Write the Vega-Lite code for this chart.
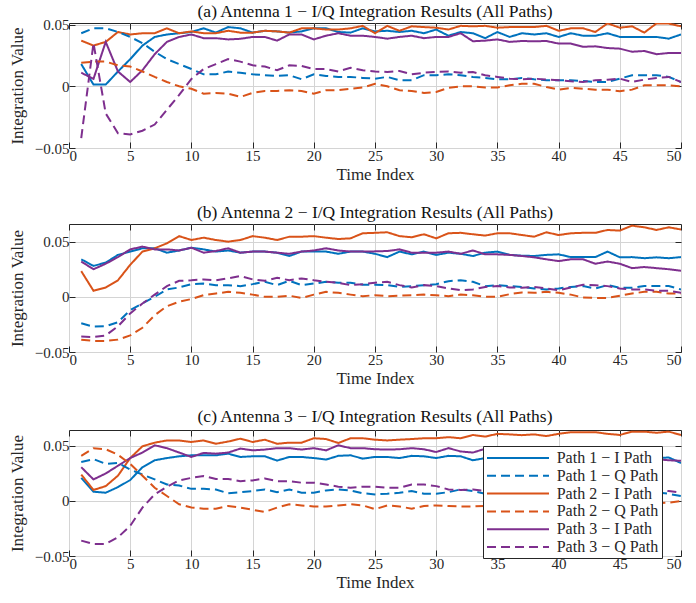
{
"$schema": "https://vega.github.io/schema/vega-lite/v6.json",
"padding": {"top": 2, "left": 7, "right": 5, "bottom": 2},
"datasets": {
"a": [
{"s":"1I","t":1,"v":0.018},{"s":"1I","t":2,"v":0.0014},{"s":"1I","t":3,"v":0.0014},{"s":"1I","t":4,"v":0.012},{"s":"1I","t":5,"v":0.022},{"s":"1I","t":6,"v":0.033},{"s":"1I","t":7,"v":0.040},{"s":"1I","t":8,"v":0.042},{"s":"1I","t":9,"v":0.043},{"s":"1I","t":10,"v":0.044},
{"s":"1I","t":11,"v":0.047},{"s":"1I","t":12,"v":0.0435},{"s":"1I","t":13,"v":0.048},{"s":"1I","t":14,"v":0.047},{"s":"1I","t":15,"v":0.0435},{"s":"1I","t":16,"v":0.045},{"s":"1I","t":17,"v":0.0445},{"s":"1I","t":18,"v":0.0435},{"s":"1I","t":19,"v":0.0445},{"s":"1I","t":20,"v":0.047},
{"s":"1I","t":21,"v":0.047},{"s":"1I","t":22,"v":0.044},{"s":"1I","t":23,"v":0.0435},{"s":"1I","t":24,"v":0.047},{"s":"1I","t":25,"v":0.0445},{"s":"1I","t":26,"v":0.045},{"s":"1I","t":27,"v":0.044},{"s":"1I","t":28,"v":0.045},{"s":"1I","t":29,"v":0.043},{"s":"1I","t":30,"v":0.046},
{"s":"1I","t":31,"v":0.041},{"s":"1I","t":32,"v":0.044},{"s":"1I","t":33,"v":0.043},{"s":"1I","t":34,"v":0.039},{"s":"1I","t":35,"v":0.044},{"s":"1I","t":36,"v":0.040},{"s":"1I","t":37,"v":0.043},{"s":"1I","t":38,"v":0.042},{"s":"1I","t":39,"v":0.043},{"s":"1I","t":40,"v":0.040},
{"s":"1I","t":41,"v":0.043},{"s":"1I","t":42,"v":0.041},{"s":"1I","t":43,"v":0.041},{"s":"1I","t":44,"v":0.043},{"s":"1I","t":45,"v":0.040},{"s":"1I","t":46,"v":0.040},{"s":"1I","t":47,"v":0.040},{"s":"1I","t":48,"v":0.040},{"s":"1I","t":49,"v":0.0386},{"s":"1I","t":50,"v":0.042},
{"s":"2I","t":1,"v":0.037},{"s":"2I","t":2,"v":0.033},{"s":"2I","t":3,"v":0.036},{"s":"2I","t":4,"v":0.044},{"s":"2I","t":5,"v":0.042},{"s":"2I","t":6,"v":0.043},{"s":"2I","t":7,"v":0.043},{"s":"2I","t":8,"v":0.047},{"s":"2I","t":9,"v":0.043},{"s":"2I","t":10,"v":0.0445},
{"s":"2I","t":11,"v":0.043},{"s":"2I","t":12,"v":0.043},{"s":"2I","t":13,"v":0.045},{"s":"2I","t":14,"v":0.0435},{"s":"2I","t":15,"v":0.0435},{"s":"2I","t":16,"v":0.045},{"s":"2I","t":17,"v":0.0445},{"s":"2I","t":18,"v":0.0435},{"s":"2I","t":19,"v":0.047},{"s":"2I","t":20,"v":0.047},
{"s":"2I","t":21,"v":0.046},{"s":"2I","t":22,"v":0.046},{"s":"2I","t":23,"v":0.047},{"s":"2I","t":24,"v":0.049},{"s":"2I","t":25,"v":0.043},{"s":"2I","t":26,"v":0.049},{"s":"2I","t":27,"v":0.045},{"s":"2I","t":28,"v":0.0486},{"s":"2I","t":29,"v":0.048},{"s":"2I","t":30,"v":0.0475},
{"s":"2I","t":31,"v":0.046},{"s":"2I","t":32,"v":0.049},{"s":"2I","t":33,"v":0.0486},{"s":"2I","t":34,"v":0.049},{"s":"2I","t":35,"v":0.0475},{"s":"2I","t":36,"v":0.048},{"s":"2I","t":37,"v":0.048},{"s":"2I","t":38,"v":0.048},{"s":"2I","t":39,"v":0.049},{"s":"2I","t":40,"v":0.045},
{"s":"2I","t":41,"v":0.047},{"s":"2I","t":42,"v":0.047},{"s":"2I","t":43,"v":0.044},{"s":"2I","t":44,"v":0.051},{"s":"2I","t":45,"v":0.0475},{"s":"2I","t":46,"v":0.0486},{"s":"2I","t":47,"v":0.0435},{"s":"2I","t":48,"v":0.051},{"s":"2I","t":49,"v":0.0508},{"s":"2I","t":50,"v":0.0486},
{"s":"3I","t":1,"v":0.011},{"s":"3I","t":2,"v":0.006},{"s":"3I","t":3,"v":0.036},{"s":"3I","t":4,"v":0.012},{"s":"3I","t":5,"v":0.0035},{"s":"3I","t":6,"v":0.013},{"s":"3I","t":7,"v":0.026},{"s":"3I","t":8,"v":0.036},{"s":"3I","t":9,"v":0.040},{"s":"3I","t":10,"v":0.042},
{"s":"3I","t":11,"v":0.039},{"s":"3I","t":12,"v":0.039},{"s":"3I","t":13,"v":0.038},{"s":"3I","t":14,"v":0.0385},{"s":"3I","t":15,"v":0.040},{"s":"3I","t":16,"v":0.040},{"s":"3I","t":17,"v":0.037},{"s":"3I","t":18,"v":0.042},{"s":"3I","t":19,"v":0.042},{"s":"3I","t":20,"v":0.038},
{"s":"3I","t":21,"v":0.041},{"s":"3I","t":22,"v":0.043},{"s":"3I","t":23,"v":0.041},{"s":"3I","t":24,"v":0.041},{"s":"3I","t":25,"v":0.040},{"s":"3I","t":26,"v":0.0386},{"s":"3I","t":27,"v":0.040},{"s":"3I","t":28,"v":0.041},{"s":"3I","t":29,"v":0.039},{"s":"3I","t":30,"v":0.040},
{"s":"3I","t":31,"v":0.040},{"s":"3I","t":32,"v":0.043},{"s":"3I","t":33,"v":0.0365},{"s":"3I","t":34,"v":0.037},{"s":"3I","t":35,"v":0.038},{"s":"3I","t":36,"v":0.036},{"s":"3I","t":37,"v":0.0367},{"s":"3I","t":38,"v":0.0365},{"s":"3I","t":39,"v":0.0367},{"s":"3I","t":40,"v":0.0346},
{"s":"3I","t":41,"v":0.0346},{"s":"3I","t":42,"v":0.032},{"s":"3I","t":43,"v":0.0324},{"s":"3I","t":44,"v":0.031},{"s":"3I","t":45,"v":0.0305},{"s":"3I","t":46,"v":0.028},{"s":"3I","t":47,"v":0.0286},{"s":"3I","t":48,"v":0.026},{"s":"3I","t":49,"v":0.027},{"s":"3I","t":50,"v":0.027},
{"s":"1Q","t":1,"v":0.043},{"s":"1Q","t":2,"v":0.047},{"s":"1Q","t":3,"v":0.047},{"s":"1Q","t":4,"v":0.044},{"s":"1Q","t":5,"v":0.040},{"s":"1Q","t":6,"v":0.035},{"s":"1Q","t":7,"v":0.028},{"s":"1Q","t":8,"v":0.022},{"s":"1Q","t":9,"v":0.018},{"s":"1Q","t":10,"v":0.014},
{"s":"1Q","t":11,"v":0.0097},{"s":"1Q","t":12,"v":0.0097},{"s":"1Q","t":13,"v":0.012},{"s":"1Q","t":14,"v":0.011},{"s":"1Q","t":15,"v":0.0097},{"s":"1Q","t":16,"v":0.009},{"s":"1Q","t":17,"v":0.0084},{"s":"1Q","t":18,"v":0.009},{"s":"1Q","t":19,"v":0.0057},{"s":"1Q","t":20,"v":0.0097},
{"s":"1Q","t":21,"v":0.0084},{"s":"1Q","t":22,"v":0.0076},{"s":"1Q","t":23,"v":0.0076},{"s":"1Q","t":24,"v":0.0068},{"s":"1Q","t":25,"v":0.0062},{"s":"1Q","t":26,"v":0.0076},{"s":"1Q","t":27,"v":0.0049},{"s":"1Q","t":28,"v":0.0049},{"s":"1Q","t":29,"v":0.009},{"s":"1Q","t":30,"v":0.009},
{"s":"1Q","t":31,"v":0.0097},{"s":"1Q","t":32,"v":0.009},{"s":"1Q","t":33,"v":0.0076},{"s":"1Q","t":34,"v":0.0068},{"s":"1Q","t":35,"v":0.0057},{"s":"1Q","t":36,"v":0.0057},{"s":"1Q","t":37,"v":0.0068},{"s":"1Q","t":38,"v":0.0057},{"s":"1Q","t":39,"v":0.0049},{"s":"1Q","t":40,"v":0.0049},
{"s":"1Q","t":41,"v":0.0049},{"s":"1Q","t":42,"v":0.0043},{"s":"1Q","t":43,"v":0.0035},{"s":"1Q","t":44,"v":0.0035},{"s":"1Q","t":45,"v":0.0062},{"s":"1Q","t":46,"v":0.009},{"s":"1Q","t":47,"v":0.009},{"s":"1Q","t":48,"v":0.009},{"s":"1Q","t":49,"v":0.0076},{"s":"1Q","t":50,"v":0.0035},
{"s":"2Q","t":1,"v":0.019},{"s":"2Q","t":2,"v":0.020},{"s":"2Q","t":3,"v":0.020},{"s":"2Q","t":4,"v":0.017},{"s":"2Q","t":5,"v":0.016},{"s":"2Q","t":6,"v":0.012},{"s":"2Q","t":7,"v":0.0076},{"s":"2Q","t":8,"v":0.0035},{"s":"2Q","t":9,"v":0.0},{"s":"2Q","t":10,"v":-0.002},
{"s":"2Q","t":11,"v":-0.006},{"s":"2Q","t":12,"v":-0.0054},{"s":"2Q","t":13,"v":-0.006},{"s":"2Q","t":14,"v":-0.0086},{"s":"2Q","t":15,"v":-0.0054},{"s":"2Q","t":16,"v":-0.0038},{"s":"2Q","t":17,"v":-0.0038},{"s":"2Q","t":18,"v":-0.0032},{"s":"2Q","t":19,"v":-0.0038},{"s":"2Q","t":20,"v":-0.006},
{"s":"2Q","t":21,"v":-0.0032},{"s":"2Q","t":22,"v":-0.0032},{"s":"2Q","t":23,"v":-0.002},{"s":"2Q","t":24,"v":-0.001},{"s":"2Q","t":25,"v":0.002},{"s":"2Q","t":26,"v":0.0},{"s":"2Q","t":27,"v":-0.0032},{"s":"2Q","t":28,"v":-0.0038},{"s":"2Q","t":29,"v":-0.0054},{"s":"2Q","t":30,"v":-0.0046},
{"s":"2Q","t":31,"v":-0.0013},{"s":"2Q","t":32,"v":0.0},{"s":"2Q","t":33,"v":0.0},{"s":"2Q","t":34,"v":-0.001},{"s":"2Q","t":35,"v":-0.001},{"s":"2Q","t":36,"v":0.0008},{"s":"2Q","t":37,"v":0.002},{"s":"2Q","t":38,"v":0.002},{"s":"2Q","t":39,"v":-0.0005},{"s":"2Q","t":40,"v":-0.0027},
{"s":"2Q","t":41,"v":-0.0013},{"s":"2Q","t":42,"v":-0.002},{"s":"2Q","t":43,"v":-0.0027},{"s":"2Q","t":44,"v":-0.0027},{"s":"2Q","t":45,"v":-0.004},{"s":"2Q","t":46,"v":-0.0027},{"s":"2Q","t":47,"v":0.0008},{"s":"2Q","t":48,"v":0.0008},{"s":"2Q","t":49,"v":0.0008},{"s":"2Q","t":50,"v":0.0},
{"s":"3Q","t":1,"v":-0.042},{"s":"3Q","t":2,"v":0.035},{"s":"3Q","t":3,"v":-0.022},{"s":"3Q","t":4,"v":-0.038},{"s":"3Q","t":5,"v":-0.039},{"s":"3Q","t":6,"v":-0.036},{"s":"3Q","t":7,"v":-0.031},{"s":"3Q","t":8,"v":-0.019},{"s":"3Q","t":9,"v":-0.007},{"s":"3Q","t":10,"v":0.006},
{"s":"3Q","t":11,"v":0.014},{"s":"3Q","t":12,"v":0.018},{"s":"3Q","t":13,"v":0.022},{"s":"3Q","t":14,"v":0.020},{"s":"3Q","t":15,"v":0.017},{"s":"3Q","t":16,"v":0.016},{"s":"3Q","t":17,"v":0.013},{"s":"3Q","t":18,"v":0.017},{"s":"3Q","t":19,"v":0.0165},{"s":"3Q","t":20,"v":0.014},
{"s":"3Q","t":21,"v":0.014},{"s":"3Q","t":22,"v":0.012},{"s":"3Q","t":23,"v":0.015},{"s":"3Q","t":24,"v":0.013},{"s":"3Q","t":25,"v":0.012},{"s":"3Q","t":26,"v":0.0116},{"s":"3Q","t":27,"v":0.0124},{"s":"3Q","t":28,"v":0.0097},{"s":"3Q","t":29,"v":0.011},{"s":"3Q","t":30,"v":0.0116},
{"s":"3Q","t":31,"v":0.012},{"s":"3Q","t":32,"v":0.011},{"s":"3Q","t":33,"v":0.0116},{"s":"3Q","t":34,"v":0.009},{"s":"3Q","t":35,"v":0.0076},{"s":"3Q","t":36,"v":0.0062},{"s":"3Q","t":37,"v":0.0057},{"s":"3Q","t":38,"v":0.0062},{"s":"3Q","t":39,"v":0.0054},{"s":"3Q","t":40,"v":0.0049},
{"s":"3Q","t":41,"v":0.004},{"s":"3Q","t":42,"v":0.0035},{"s":"3Q","t":43,"v":0.0049},{"s":"3Q","t":44,"v":0.0054},{"s":"3Q","t":45,"v":0.0062},{"s":"3Q","t":46,"v":0.0035},{"s":"3Q","t":47,"v":0.0054},{"s":"3Q","t":48,"v":0.0068},{"s":"3Q","t":49,"v":0.0076},{"s":"3Q","t":50,"v":0.0035}
],
"b": [
{"s":"1I","t":1,"v":0.034},{"s":"1I","t":2,"v":0.028},{"s":"1I","t":3,"v":0.031},{"s":"1I","t":4,"v":0.038},{"s":"1I","t":5,"v":0.041},{"s":"1I","t":6,"v":0.044},{"s":"1I","t":7,"v":0.044},{"s":"1I","t":8,"v":0.040},{"s":"1I","t":9,"v":0.042},{"s":"1I","t":10,"v":0.0445},
{"s":"1I","t":11,"v":0.043},{"s":"1I","t":12,"v":0.041},{"s":"1I","t":13,"v":0.042},{"s":"1I","t":14,"v":0.040},{"s":"1I","t":15,"v":0.041},{"s":"1I","t":16,"v":0.041},{"s":"1I","t":17,"v":0.040},{"s":"1I","t":18,"v":0.037},{"s":"1I","t":19,"v":0.041},{"s":"1I","t":20,"v":0.041},
{"s":"1I","t":21,"v":0.041},{"s":"1I","t":22,"v":0.039},{"s":"1I","t":23,"v":0.041},{"s":"1I","t":24,"v":0.041},{"s":"1I","t":25,"v":0.039},{"s":"1I","t":26,"v":0.036},{"s":"1I","t":27,"v":0.041},{"s":"1I","t":28,"v":0.0385},{"s":"1I","t":29,"v":0.041},{"s":"1I","t":30,"v":0.038},
{"s":"1I","t":31,"v":0.040},{"s":"1I","t":32,"v":0.039},{"s":"1I","t":33,"v":0.037},{"s":"1I","t":34,"v":0.040},{"s":"1I","t":35,"v":0.041},{"s":"1I","t":36,"v":0.038},{"s":"1I","t":37,"v":0.0373},{"s":"1I","t":38,"v":0.037},{"s":"1I","t":39,"v":0.038},{"s":"1I","t":40,"v":0.0385},
{"s":"1I","t":41,"v":0.036},{"s":"1I","t":42,"v":0.036},{"s":"1I","t":43,"v":0.036},{"s":"1I","t":44,"v":0.041},{"s":"1I","t":45,"v":0.0358},{"s":"1I","t":46,"v":0.036},{"s":"1I","t":47,"v":0.035},{"s":"1I","t":48,"v":0.0358},{"s":"1I","t":49,"v":0.035},{"s":"1I","t":50,"v":0.036},
{"s":"2I","t":1,"v":0.0233},{"s":"2I","t":2,"v":0.0055},{"s":"2I","t":3,"v":0.0085},{"s":"2I","t":4,"v":0.015},{"s":"2I","t":5,"v":0.029},{"s":"2I","t":6,"v":0.041},{"s":"2I","t":7,"v":0.044},{"s":"2I","t":8,"v":0.0485},{"s":"2I","t":9,"v":0.055},{"s":"2I","t":10,"v":0.0515},
{"s":"2I","t":11,"v":0.0536},{"s":"2I","t":12,"v":0.0515},{"s":"2I","t":13,"v":0.050},{"s":"2I","t":14,"v":0.0515},{"s":"2I","t":15,"v":0.055},{"s":"2I","t":16,"v":0.0536},{"s":"2I","t":17,"v":0.0515},{"s":"2I","t":18,"v":0.0545},{"s":"2I","t":19,"v":0.0545},{"s":"2I","t":20,"v":0.055},
{"s":"2I","t":21,"v":0.0536},{"s":"2I","t":22,"v":0.0524},{"s":"2I","t":23,"v":0.053},{"s":"2I","t":24,"v":0.0576},{"s":"2I","t":25,"v":0.058},{"s":"2I","t":26,"v":0.0585},{"s":"2I","t":27,"v":0.055},{"s":"2I","t":28,"v":0.054},{"s":"2I","t":29,"v":0.0567},{"s":"2I","t":30,"v":0.053},
{"s":"2I","t":31,"v":0.0576},{"s":"2I","t":32,"v":0.058},{"s":"2I","t":33,"v":0.0567},{"s":"2I","t":34,"v":0.0555},{"s":"2I","t":35,"v":0.0576},{"s":"2I","t":36,"v":0.0576},{"s":"2I","t":37,"v":0.056},{"s":"2I","t":38,"v":0.0545},{"s":"2I","t":39,"v":0.0585},{"s":"2I","t":40,"v":0.056},
{"s":"2I","t":41,"v":0.0576},{"s":"2I","t":42,"v":0.058},{"s":"2I","t":43,"v":0.058},{"s":"2I","t":44,"v":0.0606},{"s":"2I","t":45,"v":0.060},{"s":"2I","t":46,"v":0.0645},{"s":"2I","t":47,"v":0.063},{"s":"2I","t":48,"v":0.0606},{"s":"2I","t":49,"v":0.063},{"s":"2I","t":50,"v":0.061},
{"s":"3I","t":1,"v":0.032},{"s":"3I","t":2,"v":0.025},{"s":"3I","t":3,"v":0.030},{"s":"3I","t":4,"v":0.036},{"s":"3I","t":5,"v":0.043},{"s":"3I","t":6,"v":0.0455},{"s":"3I","t":7,"v":0.043},{"s":"3I","t":8,"v":0.043},{"s":"3I","t":9,"v":0.042},{"s":"3I","t":10,"v":0.0445},
{"s":"3I","t":11,"v":0.040},{"s":"3I","t":12,"v":0.0415},{"s":"3I","t":13,"v":0.044},{"s":"3I","t":14,"v":0.040},{"s":"3I","t":15,"v":0.041},{"s":"3I","t":16,"v":0.041},{"s":"3I","t":17,"v":0.040},{"s":"3I","t":18,"v":0.039},{"s":"3I","t":19,"v":0.041},{"s":"3I","t":20,"v":0.042},
{"s":"3I","t":21,"v":0.044},{"s":"3I","t":22,"v":0.042},{"s":"3I","t":23,"v":0.041},{"s":"3I","t":24,"v":0.041},{"s":"3I","t":25,"v":0.0412},{"s":"3I","t":26,"v":0.0415},{"s":"3I","t":27,"v":0.043},{"s":"3I","t":28,"v":0.040},{"s":"3I","t":29,"v":0.040},{"s":"3I","t":30,"v":0.040},
{"s":"3I","t":31,"v":0.041},{"s":"3I","t":32,"v":0.039},{"s":"3I","t":33,"v":0.042},{"s":"3I","t":34,"v":0.0385},{"s":"3I","t":35,"v":0.0385},{"s":"3I","t":36,"v":0.038},{"s":"3I","t":37,"v":0.037},{"s":"3I","t":38,"v":0.0358},{"s":"3I","t":39,"v":0.034},{"s":"3I","t":40,"v":0.0324},
{"s":"3I","t":41,"v":0.034},{"s":"3I","t":42,"v":0.034},{"s":"3I","t":43,"v":0.030},{"s":"3I","t":44,"v":0.032},{"s":"3I","t":45,"v":0.030},{"s":"3I","t":46,"v":0.026},{"s":"3I","t":47,"v":0.027},{"s":"3I","t":48,"v":0.026},{"s":"3I","t":49,"v":0.025},{"s":"3I","t":50,"v":0.0236},
{"s":"1Q","t":1,"v":-0.024},{"s":"1Q","t":2,"v":-0.027},{"s":"1Q","t":3,"v":-0.0267},{"s":"1Q","t":4,"v":-0.023},{"s":"1Q","t":5,"v":-0.012},{"s":"1Q","t":6,"v":-0.006},{"s":"1Q","t":7,"v":0.0},{"s":"1Q","t":8,"v":0.0067},{"s":"1Q","t":9,"v":0.0085},{"s":"1Q","t":10,"v":0.0115},
{"s":"1Q","t":11,"v":0.012},{"s":"1Q","t":12,"v":0.0106},{"s":"1Q","t":13,"v":0.0106},{"s":"1Q","t":14,"v":0.0097},{"s":"1Q","t":15,"v":0.0115},{"s":"1Q","t":16,"v":0.0136},{"s":"1Q","t":17,"v":0.0106},{"s":"1Q","t":18,"v":0.0145},{"s":"1Q","t":19,"v":0.0106},{"s":"1Q","t":20,"v":0.012},
{"s":"1Q","t":21,"v":0.0136},{"s":"1Q","t":22,"v":0.0127},{"s":"1Q","t":23,"v":0.0127},{"s":"1Q","t":24,"v":0.011},{"s":"1Q","t":25,"v":0.011},{"s":"1Q","t":26,"v":0.0106},{"s":"1Q","t":27,"v":0.009},{"s":"1Q","t":28,"v":0.0097},{"s":"1Q","t":29,"v":0.0106},{"s":"1Q","t":30,"v":0.0115},
{"s":"1Q","t":31,"v":0.0142},{"s":"1Q","t":32,"v":0.015},{"s":"1Q","t":33,"v":0.0136},{"s":"1Q","t":34,"v":0.0097},{"s":"1Q","t":35,"v":0.0106},{"s":"1Q","t":36,"v":0.0097},{"s":"1Q","t":37,"v":0.009},{"s":"1Q","t":38,"v":0.0076},{"s":"1Q","t":39,"v":0.0067},{"s":"1Q","t":40,"v":0.0076},
{"s":"1Q","t":41,"v":0.009},{"s":"1Q","t":42,"v":0.0097},{"s":"1Q","t":43,"v":0.0076},{"s":"1Q","t":44,"v":0.0106},{"s":"1Q","t":45,"v":0.0082},{"s":"1Q","t":46,"v":0.0082},{"s":"1Q","t":47,"v":0.0097},{"s":"1Q","t":48,"v":0.0097},{"s":"1Q","t":49,"v":0.0097},{"s":"1Q","t":50,"v":0.0067},
{"s":"2Q","t":1,"v":-0.0388},{"s":"2Q","t":2,"v":-0.040},{"s":"2Q","t":3,"v":-0.040},{"s":"2Q","t":4,"v":-0.0388},{"s":"2Q","t":5,"v":-0.035},{"s":"2Q","t":6,"v":-0.028},{"s":"2Q","t":7,"v":-0.0167},{"s":"2Q","t":8,"v":-0.0085},{"s":"2Q","t":9,"v":-0.0045},{"s":"2Q","t":10,"v":-0.002},
{"s":"2Q","t":11,"v":0.0015},{"s":"2Q","t":12,"v":0.003},{"s":"2Q","t":13,"v":0.0045},{"s":"2Q","t":14,"v":0.0036},{"s":"2Q","t":15,"v":0.002},{"s":"2Q","t":16,"v":0.0},{"s":"2Q","t":17,"v":0.0},{"s":"2Q","t":18,"v":0.001},{"s":"2Q","t":19,"v":-0.001},{"s":"2Q","t":20,"v":0.002},
{"s":"2Q","t":21,"v":0.0045},{"s":"2Q","t":22,"v":0.0036},{"s":"2Q","t":23,"v":0.002},{"s":"2Q","t":24,"v":0.0006},{"s":"2Q","t":25,"v":0.0015},{"s":"2Q","t":26,"v":0.0006},{"s":"2Q","t":27,"v":0.001},{"s":"2Q","t":28,"v":0.0015},{"s":"2Q","t":29,"v":0.002},{"s":"2Q","t":30,"v":0.0015},
{"s":"2Q","t":31,"v":0.0006},{"s":"2Q","t":32,"v":0.002},{"s":"2Q","t":33,"v":0.0015},{"s":"2Q","t":34,"v":0.0},{"s":"2Q","t":35,"v":0.0},{"s":"2Q","t":36,"v":0.0024},{"s":"2Q","t":37,"v":0.004},{"s":"2Q","t":38,"v":0.0036},{"s":"2Q","t":39,"v":0.0045},{"s":"2Q","t":40,"v":0.0036},
{"s":"2Q","t":41,"v":0.002},{"s":"2Q","t":42,"v":-0.0006},{"s":"2Q","t":43,"v":-0.001},{"s":"2Q","t":44,"v":-0.001},{"s":"2Q","t":45,"v":0.001},{"s":"2Q","t":46,"v":0.003},{"s":"2Q","t":47,"v":0.0045},{"s":"2Q","t":48,"v":0.0045},{"s":"2Q","t":49,"v":0.003},{"s":"2Q","t":50,"v":0.003},
{"s":"3Q","t":1,"v":-0.036},{"s":"3Q","t":2,"v":-0.0364},{"s":"3Q","t":3,"v":-0.035},{"s":"3Q","t":4,"v":-0.0267},{"s":"3Q","t":5,"v":-0.015},{"s":"3Q","t":6,"v":-0.006},{"s":"3Q","t":7,"v":0.002},{"s":"3Q","t":8,"v":0.0097},{"s":"3Q","t":9,"v":0.0145},{"s":"3Q","t":10,"v":0.015},
{"s":"3Q","t":11,"v":0.0158},{"s":"3Q","t":12,"v":0.015},{"s":"3Q","t":13,"v":0.0167},{"s":"3Q","t":14,"v":0.0188},{"s":"3Q","t":15,"v":0.0158},{"s":"3Q","t":16,"v":0.0145},{"s":"3Q","t":17,"v":0.0173},{"s":"3Q","t":18,"v":0.015},{"s":"3Q","t":19,"v":0.0167},{"s":"3Q","t":20,"v":0.015},
{"s":"3Q","t":21,"v":0.0136},{"s":"3Q","t":22,"v":0.0127},{"s":"3Q","t":23,"v":0.0106},{"s":"3Q","t":24,"v":0.0115},{"s":"3Q","t":25,"v":0.0128},{"s":"3Q","t":26,"v":0.0136},{"s":"3Q","t":27,"v":0.0106},{"s":"3Q","t":28,"v":0.0085},{"s":"3Q","t":29,"v":0.0106},{"s":"3Q","t":30,"v":0.0097},
{"s":"3Q","t":31,"v":0.0076},{"s":"3Q","t":32,"v":0.006},{"s":"3Q","t":33,"v":0.0067},{"s":"3Q","t":34,"v":0.009},{"s":"3Q","t":35,"v":0.0097},{"s":"3Q","t":36,"v":0.0085},{"s":"3Q","t":37,"v":0.0082},{"s":"3Q","t":38,"v":0.009},{"s":"3Q","t":39,"v":0.0076},{"s":"3Q","t":40,"v":0.006},
{"s":"3Q","t":41,"v":0.0085},{"s":"3Q","t":42,"v":0.011},{"s":"3Q","t":43,"v":0.0106},{"s":"3Q","t":44,"v":0.0097},{"s":"3Q","t":45,"v":0.0076},{"s":"3Q","t":46,"v":0.0067},{"s":"3Q","t":47,"v":0.0067},{"s":"3Q","t":48,"v":0.0055},{"s":"3Q","t":49,"v":0.0055},{"s":"3Q","t":50,"v":0.0036}
],
"c": [
{"s":"1I","t":1,"v":0.021},{"s":"1I","t":2,"v":0.0084},{"s":"1I","t":3,"v":0.0075},{"s":"1I","t":4,"v":0.0126},{"s":"1I","t":5,"v":0.019},{"s":"1I","t":6,"v":0.0307},{"s":"1I","t":7,"v":0.037},{"s":"1I","t":8,"v":0.039},{"s":"1I","t":9,"v":0.0406},{"s":"1I","t":10,"v":0.0415},
{"s":"1I","t":11,"v":0.0415},{"s":"1I","t":12,"v":0.0415},{"s":"1I","t":13,"v":0.043},{"s":"1I","t":14,"v":0.040},{"s":"1I","t":15,"v":0.0406},{"s":"1I","t":16,"v":0.0406},{"s":"1I","t":17,"v":0.0367},{"s":"1I","t":18,"v":0.040},{"s":"1I","t":19,"v":0.040},{"s":"1I","t":20,"v":0.039},
{"s":"1I","t":21,"v":0.0376},{"s":"1I","t":22,"v":0.041},{"s":"1I","t":23,"v":0.0415},{"s":"1I","t":24,"v":0.0385},{"s":"1I","t":25,"v":0.040},{"s":"1I","t":26,"v":0.040},{"s":"1I","t":27,"v":0.039},{"s":"1I","t":28,"v":0.041},{"s":"1I","t":29,"v":0.0406},{"s":"1I","t":30,"v":0.039},
{"s":"1I","t":31,"v":0.041},{"s":"1I","t":32,"v":0.0406},{"s":"1I","t":33,"v":0.037},{"s":"1I","t":34,"v":0.039},{"s":"1I","t":35,"v":0.040},{"s":"1I","t":36,"v":0.041},{"s":"1I","t":37,"v":0.040},{"s":"1I","t":38,"v":0.039},{"s":"1I","t":39,"v":0.041},{"s":"1I","t":40,"v":0.040},
{"s":"1I","t":41,"v":0.039},{"s":"1I","t":42,"v":0.040},{"s":"1I","t":43,"v":0.038},{"s":"1I","t":44,"v":0.039},{"s":"1I","t":45,"v":0.038},{"s":"1I","t":46,"v":0.039},{"s":"1I","t":47,"v":0.038},{"s":"1I","t":48,"v":0.039},{"s":"1I","t":49,"v":0.0395},{"s":"1I","t":50,"v":0.0345},
{"s":"2I","t":1,"v":0.024},{"s":"2I","t":2,"v":0.010},{"s":"2I","t":3,"v":0.0135},{"s":"2I","t":4,"v":0.023},{"s":"2I","t":5,"v":0.039},{"s":"2I","t":6,"v":0.0497},{"s":"2I","t":7,"v":0.053},{"s":"2I","t":8,"v":0.055},{"s":"2I","t":9,"v":0.055},{"s":"2I","t":10,"v":0.0536},
{"s":"2I","t":11,"v":0.055},{"s":"2I","t":12,"v":0.052},{"s":"2I","t":13,"v":0.054},{"s":"2I","t":14,"v":0.0566},{"s":"2I","t":15,"v":0.0536},{"s":"2I","t":16,"v":0.0557},{"s":"2I","t":17,"v":0.052},{"s":"2I","t":18,"v":0.053},{"s":"2I","t":19,"v":0.053},{"s":"2I","t":20,"v":0.057},
{"s":"2I","t":21,"v":0.0563},{"s":"2I","t":22,"v":0.0527},{"s":"2I","t":23,"v":0.057},{"s":"2I","t":24,"v":0.057},{"s":"2I","t":25,"v":0.0557},{"s":"2I","t":26,"v":0.055},{"s":"2I","t":27,"v":0.0557},{"s":"2I","t":28,"v":0.0563},{"s":"2I","t":29,"v":0.057},{"s":"2I","t":30,"v":0.057},
{"s":"2I","t":31,"v":0.058},{"s":"2I","t":32,"v":0.057},{"s":"2I","t":33,"v":0.060},{"s":"2I","t":34,"v":0.0585},{"s":"2I","t":35,"v":0.061},{"s":"2I","t":36,"v":0.0605},{"s":"2I","t":37,"v":0.0598},{"s":"2I","t":38,"v":0.0605},{"s":"2I","t":39,"v":0.059},{"s":"2I","t":40,"v":0.061},
{"s":"2I","t":41,"v":0.0625},{"s":"2I","t":42,"v":0.0625},{"s":"2I","t":43,"v":0.0625},{"s":"2I","t":44,"v":0.061},{"s":"2I","t":45,"v":0.060},{"s":"2I","t":46,"v":0.063},{"s":"2I","t":47,"v":0.063},{"s":"2I","t":48,"v":0.062},{"s":"2I","t":49,"v":0.063},{"s":"2I","t":50,"v":0.060},
{"s":"3I","t":1,"v":0.0307},{"s":"3I","t":2,"v":0.0196},{"s":"3I","t":3,"v":0.025},{"s":"3I","t":4,"v":0.032},{"s":"3I","t":5,"v":0.039},{"s":"3I","t":6,"v":0.044},{"s":"3I","t":7,"v":0.0506},{"s":"3I","t":8,"v":0.048},{"s":"3I","t":9,"v":0.044},{"s":"3I","t":10,"v":0.040},
{"s":"3I","t":11,"v":0.0437},{"s":"3I","t":12,"v":0.043},{"s":"3I","t":13,"v":0.044},{"s":"3I","t":14,"v":0.0476},{"s":"3I","t":15,"v":0.046},{"s":"3I","t":16,"v":0.0467},{"s":"3I","t":17,"v":0.048},{"s":"3I","t":18,"v":0.048},{"s":"3I","t":19,"v":0.0467},{"s":"3I","t":20,"v":0.048},
{"s":"3I","t":21,"v":0.046},{"s":"3I","t":22,"v":0.0506},{"s":"3I","t":23,"v":0.048},{"s":"3I","t":24,"v":0.048},{"s":"3I","t":25,"v":0.047},{"s":"3I","t":26,"v":0.0467},{"s":"3I","t":27,"v":0.047},{"s":"3I","t":28,"v":0.048},{"s":"3I","t":29,"v":0.047},{"s":"3I","t":30,"v":0.0445},
{"s":"3I","t":31,"v":0.048},{"s":"3I","t":32,"v":0.045},{"s":"3I","t":33,"v":0.044},{"s":"3I","t":34,"v":0.0475},{"s":"3I","t":35,"v":0.047},{"s":"3I","t":36,"v":0.046},{"s":"3I","t":37,"v":0.047},{"s":"3I","t":38,"v":0.045},{"s":"3I","t":39,"v":0.046},{"s":"3I","t":40,"v":0.044},
{"s":"3I","t":41,"v":0.045},{"s":"3I","t":42,"v":0.043},{"s":"3I","t":43,"v":0.042},{"s":"3I","t":44,"v":0.041},{"s":"3I","t":45,"v":0.041},{"s":"3I","t":46,"v":0.040},{"s":"3I","t":47,"v":0.039},{"s":"3I","t":48,"v":0.038},{"s":"3I","t":49,"v":0.037},{"s":"3I","t":50,"v":0.0365},
{"s":"1Q","t":1,"v":0.0355},{"s":"1Q","t":2,"v":0.038},{"s":"1Q","t":3,"v":0.0337},{"s":"1Q","t":4,"v":0.0346},{"s":"1Q","t":5,"v":0.0286},{"s":"1Q","t":6,"v":0.024},{"s":"1Q","t":7,"v":0.0196},{"s":"1Q","t":8,"v":0.015},{"s":"1Q","t":9,"v":0.014},{"s":"1Q","t":10,"v":0.011},
{"s":"1Q","t":11,"v":0.011},{"s":"1Q","t":12,"v":0.0105},{"s":"1Q","t":13,"v":0.007},{"s":"1Q","t":14,"v":0.008},{"s":"1Q","t":15,"v":0.009},{"s":"1Q","t":16,"v":0.0105},{"s":"1Q","t":17,"v":0.008},{"s":"1Q","t":18,"v":0.0105},{"s":"1Q","t":19,"v":0.0075},{"s":"1Q","t":20,"v":0.0075},
{"s":"1Q","t":21,"v":0.0096},{"s":"1Q","t":22,"v":0.0105},{"s":"1Q","t":23,"v":0.0096},{"s":"1Q","t":24,"v":0.007},{"s":"1Q","t":25,"v":0.006},{"s":"1Q","t":26,"v":0.0066},{"s":"1Q","t":27,"v":0.0075},{"s":"1Q","t":28,"v":0.009},{"s":"1Q","t":29,"v":0.0066},{"s":"1Q","t":30,"v":0.0066},
{"s":"1Q","t":31,"v":0.008},{"s":"1Q","t":32,"v":0.0105},{"s":"1Q","t":33,"v":0.009},{"s":"1Q","t":34,"v":0.0066},{"s":"1Q","t":35,"v":0.007},{"s":"1Q","t":36,"v":0.008},{"s":"1Q","t":37,"v":0.006},{"s":"1Q","t":38,"v":0.007},{"s":"1Q","t":39,"v":0.005},{"s":"1Q","t":40,"v":0.006},
{"s":"1Q","t":41,"v":0.007},{"s":"1Q","t":42,"v":0.005},{"s":"1Q","t":43,"v":0.006},{"s":"1Q","t":44,"v":0.007},{"s":"1Q","t":45,"v":0.008},{"s":"1Q","t":46,"v":0.007},{"s":"1Q","t":47,"v":0.008},{"s":"1Q","t":48,"v":0.008},{"s":"1Q","t":49,"v":0.0065},{"s":"1Q","t":50,"v":0.0045},
{"s":"2Q","t":1,"v":0.041},{"s":"2Q","t":2,"v":0.048},{"s":"2Q","t":3,"v":0.047},{"s":"2Q","t":4,"v":0.042},{"s":"2Q","t":5,"v":0.0337},{"s":"2Q","t":6,"v":0.023},{"s":"2Q","t":7,"v":0.012},{"s":"2Q","t":8,"v":0.0045},{"s":"2Q","t":9,"v":-0.003},{"s":"2Q","t":10,"v":-0.006},
{"s":"2Q","t":11,"v":-0.007},{"s":"2Q","t":12,"v":-0.007},{"s":"2Q","t":13,"v":-0.0045},{"s":"2Q","t":14,"v":-0.006},{"s":"2Q","t":15,"v":-0.008},{"s":"2Q","t":16,"v":-0.010},{"s":"2Q","t":17,"v":-0.006},{"s":"2Q","t":18,"v":-0.003},{"s":"2Q","t":19,"v":-0.004},{"s":"2Q","t":20,"v":-0.005},
{"s":"2Q","t":21,"v":-0.005},{"s":"2Q","t":22,"v":-0.004},{"s":"2Q","t":23,"v":-0.003},{"s":"2Q","t":24,"v":-0.004},{"s":"2Q","t":25,"v":-0.0075},{"s":"2Q","t":26,"v":-0.004},{"s":"2Q","t":27,"v":-0.005},{"s":"2Q","t":28,"v":-0.007},{"s":"2Q","t":29,"v":-0.0045},{"s":"2Q","t":30,"v":-0.004},
{"s":"2Q","t":31,"v":-0.0045},{"s":"2Q","t":32,"v":-0.005},{"s":"2Q","t":33,"v":-0.005},{"s":"2Q","t":34,"v":-0.0045},{"s":"2Q","t":35,"v":-0.004},{"s":"2Q","t":36,"v":-0.003},{"s":"2Q","t":37,"v":-0.005},{"s":"2Q","t":38,"v":-0.004},{"s":"2Q","t":39,"v":-0.003},{"s":"2Q","t":40,"v":-0.005},
{"s":"2Q","t":41,"v":-0.004},{"s":"2Q","t":42,"v":-0.003},{"s":"2Q","t":43,"v":-0.004},{"s":"2Q","t":44,"v":-0.005},{"s":"2Q","t":45,"v":-0.003},{"s":"2Q","t":46,"v":-0.004},{"s":"2Q","t":47,"v":-0.003},{"s":"2Q","t":48,"v":-0.002},{"s":"2Q","t":49,"v":-0.0015},{"s":"2Q","t":50,"v":0.0},
{"s":"3Q","t":1,"v":-0.036},{"s":"3Q","t":2,"v":-0.039},{"s":"3Q","t":3,"v":-0.039},{"s":"3Q","t":4,"v":-0.033},{"s":"3Q","t":5,"v":-0.0226},{"s":"3Q","t":6,"v":-0.006},{"s":"3Q","t":7,"v":0.006},{"s":"3Q","t":8,"v":0.013},{"s":"3Q","t":9,"v":0.0187},{"s":"3Q","t":10,"v":0.021},
{"s":"3Q","t":11,"v":0.0226},{"s":"3Q","t":12,"v":0.020},{"s":"3Q","t":13,"v":0.020},{"s":"3Q","t":14,"v":0.018},{"s":"3Q","t":15,"v":0.0187},{"s":"3Q","t":16,"v":0.0205},{"s":"3Q","t":17,"v":0.018},{"s":"3Q","t":18,"v":0.018},{"s":"3Q","t":19,"v":0.0166},{"s":"3Q","t":20,"v":0.0166},
{"s":"3Q","t":21,"v":0.015},{"s":"3Q","t":22,"v":0.013},{"s":"3Q","t":23,"v":0.012},{"s":"3Q","t":24,"v":0.013},{"s":"3Q","t":25,"v":0.013},{"s":"3Q","t":26,"v":0.012},{"s":"3Q","t":27,"v":0.012},{"s":"3Q","t":28,"v":0.015},{"s":"3Q","t":29,"v":0.015},{"s":"3Q","t":30,"v":0.0135},
{"s":"3Q","t":31,"v":0.0105},{"s":"3Q","t":32,"v":0.010},{"s":"3Q","t":33,"v":0.0105},{"s":"3Q","t":34,"v":0.009},{"s":"3Q","t":35,"v":0.010},{"s":"3Q","t":36,"v":0.009},{"s":"3Q","t":37,"v":0.011},{"s":"3Q","t":38,"v":0.010},{"s":"3Q","t":39,"v":0.009},{"s":"3Q","t":40,"v":0.008},
{"s":"3Q","t":41,"v":0.009},{"s":"3Q","t":42,"v":0.010},{"s":"3Q","t":43,"v":0.009},{"s":"3Q","t":44,"v":0.008},{"s":"3Q","t":45,"v":0.009},{"s":"3Q","t":46,"v":0.010},{"s":"3Q","t":47,"v":0.011},{"s":"3Q","t":48,"v":0.010},{"s":"3Q","t":49,"v":0.009},{"s":"3Q","t":50,"v":0.0075}
]
},
"vconcat": [
{
"data": {"name": "a"},
"title": {"text": "(a) Antenna 1 − I/Q Integration Results (All Paths)", "offset": -3},
"width": 612, "height": 125,
"layer": [
{"mark": {"type": "line", "strokeWidth": 2, "clip": true},
"encoding": {
"x": {"field": "t", "type": "quantitative", "scale": {"domain": [0, 50], "nice": false}, "axis": {"values": [0,5,10,15,20,25,30,35,40,45,50], "title": "Time Index", "grid": true}},
"y": {"field": "v", "type": "quantitative", "scale": {"domain": [-0.05, 0.0513], "nice": false, "zero": false}, "axis": {"values": [-0.05, 0, 0.05], "format": "~g", "title": "Integration Value", "grid": true}},
"color": {"field": "s", "type": "nominal", "scale": {"domain": ["1I","1Q","2I","2Q","3I","3Q"], "range": ["#0072BD","#0072BD","#D95319","#D95319","#7E2F8E","#7E2F8E"]}, "legend": null},
"strokeDash": {"field": "s", "type": "nominal", "scale": {"domain": ["1I","1Q","2I","2Q","3I","3Q"], "range": [[1,0],[9,5],[1,0],[9,5],[1,0],[9,5]]}, "legend": null}
}},
{"mark": {"type": "line", "opacity": 0},
"encoding": {
"x": {"field": "t", "type": "quantitative", "scale": {"domain": [0, 50], "nice": false}, "axis": {"orient": "top", "values": [0,5,10,15,20,25,30,35,40,45,50], "labels": false, "title": null, "grid": false}},
"y": {"field": "v", "type": "quantitative", "scale": {"domain": [-0.05, 0.0513], "nice": false, "zero": false}, "axis": {"orient": "right", "values": [-0.05, 0, 0.05], "labels": false, "title": null, "grid": false}}
}}
],
"resolve": {"axis": {"x": "independent", "y": "independent"}}
},
{
"data": {"name": "b"},
"title": {"text": "(b) Antenna 2 − I/Q Integration Results (All Paths)", "offset": 2},
"width": 612, "height": 128,
"layer": [
{"mark": {"type": "line", "strokeWidth": 2, "clip": true},
"encoding": {
"x": {"field": "t", "type": "quantitative", "scale": {"domain": [0, 50], "nice": false}, "axis": {"values": [0,5,10,15,20,25,30,35,40,45,50], "title": "Time Index", "grid": true}},
"y": {"field": "v", "type": "quantitative", "scale": {"domain": [-0.05, 0.066], "nice": false, "zero": false}, "axis": {"values": [-0.05, 0, 0.05], "format": "~g", "title": "Integration Value", "grid": true}},
"color": {"field": "s", "type": "nominal", "scale": {"domain": ["1I","1Q","2I","2Q","3I","3Q"], "range": ["#0072BD","#0072BD","#D95319","#D95319","#7E2F8E","#7E2F8E"]}, "legend": null},
"strokeDash": {"field": "s", "type": "nominal", "scale": {"domain": ["1I","1Q","2I","2Q","3I","3Q"], "range": [[1,0],[9,5],[1,0],[9,5],[1,0],[9,5]]}, "legend": null}
}},
{"mark": {"type": "line", "opacity": 0},
"encoding": {
"x": {"field": "t", "type": "quantitative", "scale": {"domain": [0, 50], "nice": false}, "axis": {"orient": "top", "values": [0,5,10,15,20,25,30,35,40,45,50], "labels": false, "title": null, "grid": false}},
"y": {"field": "v", "type": "quantitative", "scale": {"domain": [-0.05, 0.066], "nice": false, "zero": false}, "axis": {"orient": "right", "values": [-0.05, 0, 0.05], "labels": false, "title": null, "grid": false}}
}}
],
"resolve": {"axis": {"x": "independent", "y": "independent"}}
},
{
"data": {"name": "c"},
"title": {"text": "(c) Antenna 3 − I/Q Integration Results (All Paths)", "offset": 4},
"width": 612, "height": 126,
"layer": [
{"mark": {"type": "line", "strokeWidth": 2, "clip": true},
"encoding": {
"x": {"field": "t", "type": "quantitative", "scale": {"domain": [0, 50], "nice": false}, "axis": {"values": [0,5,10,15,20,25,30,35,40,45,50], "title": "Time Index", "grid": true}},
"y": {"field": "v", "type": "quantitative", "scale": {"domain": [-0.05, 0.0645], "nice": false, "zero": false}, "axis": {"values": [-0.05, 0, 0.05], "format": "~g", "title": "Integration Value", "grid": true}},
"color": {"field": "s", "type": "nominal", "scale": {"domain": ["1I","1Q","2I","2Q","3I","3Q"], "range": ["#0072BD","#0072BD","#D95319","#D95319","#7E2F8E","#7E2F8E"]},
 "legend": {"orient": "none", "legendX": 414, "legendY": 16, "title": null, "labelExpr": "'Path ' + substring(datum.value, 0, 1) + ' − ' + substring(datum.value, 1, 2) + ' Path'"}},
"strokeDash": {"field": "s", "type": "nominal", "scale": {"domain": ["1I","1Q","2I","2Q","3I","3Q"], "range": [[1,0],[9,5],[1,0],[9,5],[1,0],[9,5]]},
 "legend": {"orient": "none", "legendX": 414, "legendY": 16, "title": null, "labelExpr": "'Path ' + substring(datum.value, 0, 1) + ' − ' + substring(datum.value, 1, 2) + ' Path'"}}
}},
{"mark": {"type": "line", "opacity": 0},
"encoding": {
"x": {"field": "t", "type": "quantitative", "scale": {"domain": [0, 50], "nice": false}, "axis": {"orient": "top", "values": [0,5,10,15,20,25,30,35,40,45,50], "labels": false, "title": null, "grid": false}},
"y": {"field": "v", "type": "quantitative", "scale": {"domain": [-0.05, 0.0645], "nice": false, "zero": false}, "axis": {"orient": "right", "values": [-0.05, 0, 0.05], "labels": false, "title": null, "grid": false}}
}}
],
"resolve": {"axis": {"x": "independent", "y": "independent"}}
}
],
"resolve": {"scale": {"color": "independent", "strokeDash": "independent", "y": "independent"}, "legend": {"color": "independent", "strokeDash": "independent"}},
"spacing": 20,
"config": {
"font": "Liberation Serif",
"view": {"stroke": "#262626", "strokeWidth": 1},
"axis": {"labelFont": "Liberation Serif", "labelFontSize": 15, "labelColor": "#262626", "titleFont": "Liberation Serif", "titleFontSize": 17, "titleFontWeight": "normal", "titleColor": "#262626", "domain": false, "tickColor": "#262626", "tickSize": -6, "tickWidth": 1, "labelPadding": 6, "gridColor": "#d4d4d4", "gridOpacity": 1, "gridWidth": 1},
"axisX": {"titlePadding": 3},
"axisY": {"titlePadding": 8},
"title": {"font": "Liberation Serif", "fontSize": 17.5, "fontWeight": "normal", "color": "#111111", "offset": 3},
"legend": {"symbolType": "M-1,0L6.75,0", "symbolSize": 256, "symbolStrokeWidth": 2, "labelFont": "Liberation Serif", "labelFontSize": 16, "labelColor": "#262626", "labelOffset": 52.7, "fillColor": "white", "strokeColor": "#262626", "padding": 3, "rowPadding": 0.8}
}
}
